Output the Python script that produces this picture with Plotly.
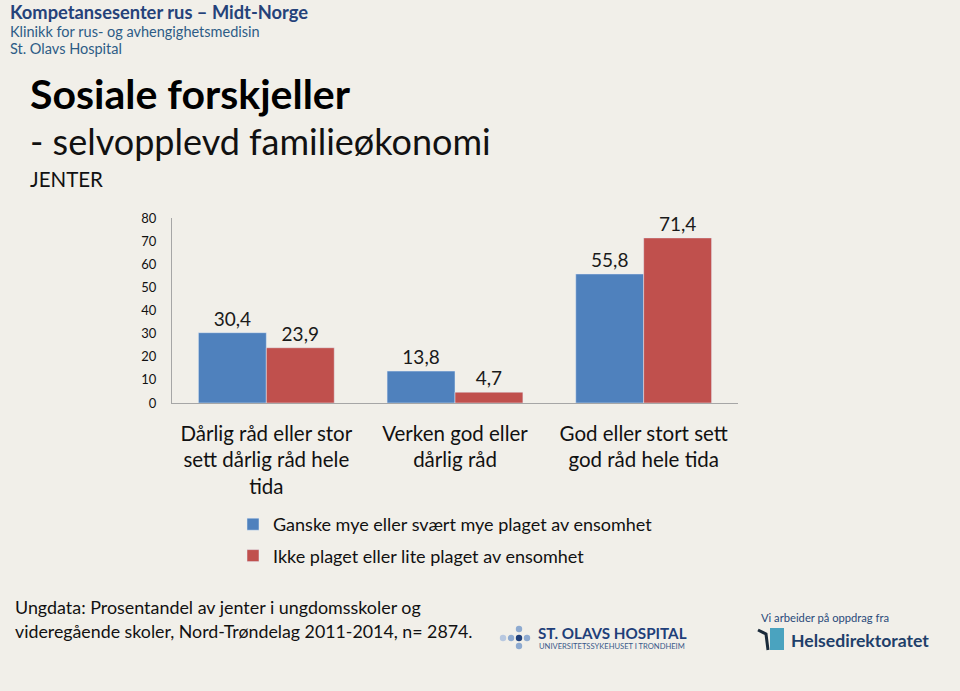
import plotly.graph_objects as go

categories = ["Dårlig råd eller stor<br>sett dårlig råd hele<br>tida",
              "Verken god eller<br>dårlig råd",
              "God eller stort sett<br>god råd hele tida"]
series_names = ["Ganske mye eller svært mye plaget av ensomhet",
                "Ikke plaget eller lite plaget av ensomhet"]
blue_values = [30.4, 13.8, 55.8]
red_values = [23.9, 4.7, 71.4]
y_ticks = [0, 10, 20, 30, 40, 50, 60, 70, 80]

BG = "#f1efe9"
FONT = "Lato"
W, H = 960, 691
L, R, T, B = 172, 222, 218, 288
PW, PH = W - L - R, H - T - B

def fmt(v):
    return f"{v:.1f}".replace(".", ",")

fig = go.Figure()
for name, vals, col, grp in [(series_names[0], blue_values, "#4f81bd", "a"),
                             (series_names[1], red_values, "#c0504d", "b")]:
    fig.add_trace(go.Bar(
        x=categories, y=vals, name=name, marker_color=col, legendgroup=grp,
        text=[fmt(v) for v in vals], textposition="outside",
        textfont=dict(size=19, color="#1a1a1a", family=FONT),
        cliponaxis=False))

def px(x):
    return (x - L) / PW
def py(y):
    return (H - B - y) / PH

ann = []
def text(x, y, s, size, color="#111", bold=False, anchor="left", family=FONT):
    ann.append(dict(xref="paper", yref="paper", x=px(x), y=py(y), text=f"<b>{s}</b>" if bold else s,
                    showarrow=False, xanchor=anchor, yanchor="middle",
                    font=dict(size=size, color=color, family=family)))

text(8, 12, "Kompetansesenter rus – Midt-Norge", 18.3, "#25427a", bold=True)
text(8, 31, "Klinikk for rus- og avhengighetsmedisin", 14.5, "#2d5c86")
text(8, 48, "St. Olavs Hospital", 14.5, "#2d5c86")
text(28, 93, "Sosiale forskjeller", 41, "#000", bold=True)
text(28, 141, "- selvopplevd familieøkonomi", 36, "#111")
text(28, 179, "JENTER", 20.5, "#111")
text(13, 607, "Ungdata: Prosentandel av jenter i ungdomsskoler og", 17.9, "#111")
text(13, 631, "videregående skoler, Nord-Trøndelag 2011-2014, n= 2874.", 17.8, "#111")
text(536, 633, "ST. OLAVS HOSPITAL", 15.2, "#1f3f7a", bold=True)
text(537, 646, "UNIVERSITETSSYKEHUSET I TRONDHEIM", 7.6, "#3a5a8a")
text(759, 617, "Vi arbeider på oppdrag fra", 11.2, "#2a4a7a")
text(789, 640, "Helsedirektoratet", 17.6, "#1f3f6a", bold=True)

shapes = []
for (cx, cy, col) in [(519, 629, "#8eaad0"), (511, 638, "#8eaad0"), (519, 638, "#1f3f7a"),
                      (527, 638, "#8eaad0"), (519, 646, "#8eaad0"), (503, 638, "#b8c8e0")]:
    r = 3.2
    shapes.append(dict(type="circle", xref="paper", yref="paper",
                       x0=px(cx - r), x1=px(cx + r), y0=py(cy + r), y1=py(cy - r),
                       fillcolor=col, line_width=0))
shapes.append(dict(type="rect", xref="paper", yref="paper", x0=px(770), x1=px(784),
                   y0=py(650), y1=py(628), fillcolor="#4aa3bf", line_width=0))
shapes.append(dict(type="path", xref="paper", yref="paper",
                   path=f"M {px(758)} {py(630)} L {px(766)} {py(634)} L {px(768)} {py(650)}",
                   line=dict(color="#1a2a3a", width=3)))

fig.update_layout(
    width=W, height=H, paper_bgcolor=BG, plot_bgcolor=BG,
    margin=dict(l=L, r=R, t=T, b=B),
    barmode="group", bargap=0.28, bargroupgap=0,
    showlegend=True,
    legend=dict(x=px(233), y=py(506), xanchor="left", yanchor="top",
                font=dict(size=18, family=FONT, color="#111"), bgcolor="rgba(0,0,0,0)",
                tracegroupgap=5, itemwidth=30),
    annotations=ann, shapes=shapes,
    font=dict(family=FONT),
    yaxis=dict(range=[0, 80], tickvals=y_ticks, showgrid=False, zeroline=False,
               showline=True, linecolor="#a6a6a6", linewidth=1, ticks="",
               tickfont=dict(size=13, family=FONT, color="#111"), ticklabelstandoff=12),
    xaxis=dict(showline=True, linecolor="#a6a6a6", linewidth=1, ticks="",
               tickfont=dict(size=20.5, family=FONT, color="#111"), ticklabelstandoff=12),
)
fig.write_html("out.html")
